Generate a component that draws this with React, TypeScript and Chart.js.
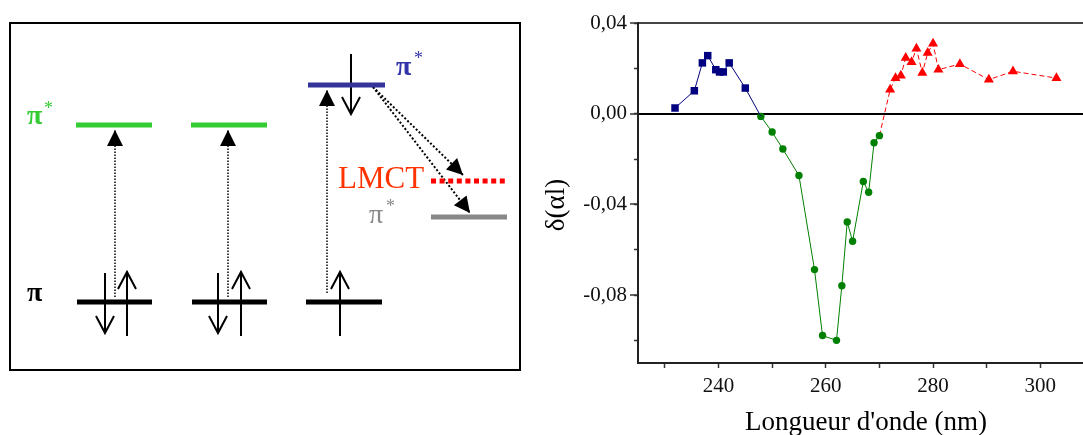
import React, { useEffect, useRef } from "react";
import { Chart, registerables } from "chart.js";

Chart.register(...registerables);

const SERIF = '"Liberation Serif", "Times New Roman", Times, serif';

// ---------------- Spectrum data ----------------
const blueWavelength = [231.9, 235.5, 237.0, 238.0, 239.5, 240.2, 240.9, 242.0, 245.0, 247.9];
const blueDelta = [0.0025, 0.0101, 0.0224, 0.0256, 0.0194, 0.0184, 0.0184, 0.0224, 0.0113, -0.0012];

const greenWavelength = [247.9, 250.0, 252.0, 255.0, 257.9, 259.4, 262.0, 263.0, 264.0, 265.0, 267.0, 268.0, 269.0, 270.0];
const greenDelta = [-0.0012, -0.0081, -0.0156, -0.0273, -0.0688, -0.0979, -0.1, -0.0759, -0.0478, -0.0563, -0.0299, -0.0347, -0.0128, -0.0097];

const redWavelength = [270.0, 272.0, 273.0, 274.0, 274.9, 276.0, 276.9, 278.0, 279.0, 280.0, 281.0, 285.0, 290.4, 294.9, 303.0];
const redDelta = [-0.0097, 0.0106, 0.0157, 0.0168, 0.0246, 0.0228, 0.0287, 0.018, 0.0268, 0.0309, 0.0194, 0.0219, 0.015, 0.0187, 0.0157];

const xLabelledTicks = [240, 260, 280, 300];
const yLabelledTicks = [0.04, 0, -0.04, -0.08];
const xTitle = "Longueur d'onde (nm)";
const yTitle = "δ(αl)";

// ---------------- Energy-level scheme (diagram units) ----------------
const GREEN = "#33cc33";
const BLUE = "#333399";
const GREY = "#888888";
const LMCT_RED = "#ff0000";

const levelNames = ["π* 1", "π* 2", "π* 3", "LMCT", "π* M", "π 1", "π 2", "π 3"];
const levelLeft = [76, 191, 308, 431, 431, 77, 192, 306];
const levelRight = [152, 267, 385, 508, 507, 152, 267, 382];
const levelEnergy = [125, 125, 85, 181, 217, 302, 302, 302];
const levelColor = [GREEN, GREEN, BLUE, LMCT_RED, GREY, "#000000", "#000000", "#000000"];
const levelDotted = [false, false, false, true, false, false, false, false];

// electron spins (vertical solid arrows): x, start, end (head at end)
const spinX = [105, 127, 218, 241, 340, 351];
const spinFrom = [273, 336, 273, 336, 336, 54];
const spinTo = [333, 272, 333, 272, 272, 114];

// excitations / transfers (dotted arrows): start -> tip
const excFromX = [115, 228, 327, 373, 373];
const excFromY = [297, 297, 293, 87, 87];
const excToX = [115, 228, 327, 463, 470];
const excToY = [130, 130, 90, 175, 213];

const schemeLabels = [
  { text: "π", x: 27, y: 124, size: 28, weight: "bold", color: GREEN },
  { text: "*", x: 44, y: 114, size: 18, weight: "normal", color: GREEN },
  { text: "π", x: 396, y: 75, size: 28, weight: "bold", color: "#3333aa" },
  { text: "*", x: 414, y: 64, size: 18, weight: "normal", color: "#3333aa" },
  { text: "π", x: 369, y: 223, size: 28, weight: "normal", color: GREY },
  { text: "*", x: 386, y: 212, size: 18, weight: "normal", color: GREY },
  { text: "π", x: 27, y: 301, size: 28, weight: "bold", color: "#000000" },
  { text: "LMCT", x: 338, y: 188, size: 31, weight: "normal", color: "#ff3300" },
];

const toPoints = (xs: number[], ys: number[]) => xs.map((x, i) => ({ x, y: ys[i] }));

const schemePlugin = {
  id: "scheme",
  beforeDatasetsDraw(chart: any) {
    const { ctx, chartArea } = chart;
    ctx.save();
    ctx.strokeStyle = "#000";
    ctx.lineWidth = 2;
    ctx.strokeRect(chartArea.left, chartArea.top, chartArea.right - chartArea.left, chartArea.bottom - chartArea.top);
    ctx.restore();
  },
  afterDatasetsDraw(chart: any) {
    const { ctx } = chart;
    const xs = chart.scales.x;
    const ys = chart.scales.y;
    chart.data.datasets.forEach((ds: any, i: number) => {
      if (!ds.arrow) return;
      const meta = chart.getDatasetMeta(i);
      const p0 = meta.data[0];
      const p1 = meta.data[1];
      const dx = p1.x - p0.x;
      const dy = p1.y - p0.y;
      const len = Math.hypot(dx, dy);
      const ux = dx / len;
      const uy = dy / len;
      const nx = -uy;
      const ny = ux;
      ctx.save();
      if (ds.arrow === "open") {
        const L = 17;
        const W = 9;
        ctx.strokeStyle = "#000";
        ctx.lineWidth = 2;
        ctx.beginPath();
        ctx.moveTo(p1.x - ux * L + nx * W, p1.y - uy * L + ny * W);
        ctx.lineTo(p1.x, p1.y);
        ctx.lineTo(p1.x - ux * L - nx * W, p1.y - uy * L - ny * W);
        ctx.stroke();
      } else {
        const L = 16;
        const W = 8;
        ctx.fillStyle = "#000";
        ctx.beginPath();
        ctx.moveTo(p1.x, p1.y);
        ctx.lineTo(p1.x - ux * L + nx * W, p1.y - uy * L + ny * W);
        ctx.lineTo(p1.x - ux * L - nx * W, p1.y - uy * L - ny * W);
        ctx.closePath();
        ctx.fill();
      }
      ctx.restore();
    });
    ctx.save();
    ctx.textAlign = "left";
    ctx.textBaseline = "alphabetic";
    schemeLabels.forEach((l) => {
      ctx.font = `${l.weight} ${l.size}px ${SERIF}`;
      ctx.fillStyle = l.color;
      ctx.fillText(l.text, xs.getPixelForValue(l.x), ys.getPixelForValue(l.y));
    });
    ctx.restore();
  },
};

const spectrumTitles = {
  id: "spectrumTitles",
  afterDraw(chart: any) {
    const { ctx, chartArea } = chart;
    ctx.save();
    ctx.fillStyle = "#000";
    ctx.font = `27px ${SERIF}`;
    ctx.textAlign = "center";
    ctx.textBaseline = "alphabetic";
    ctx.fillText(xTitle, (chartArea.left + chartArea.right) / 2, 430);
    ctx.translate(chartArea.left - 74, 205);
    ctx.rotate(-Math.PI / 2);
    ctx.fillText(yTitle, 0, 0);
    ctx.restore();
  },
};

const isLabelled = (list: number[], v: number) => list.some((t) => Math.abs(t - v) < 1e-9);
const fmtY = (v: number) => (Math.abs(v) < 1e-9 ? "0,00" : v.toFixed(2).replace(".", ","));

export default function App() {
  const schemeRef = useRef<HTMLCanvasElement | null>(null);
  const specRef = useRef<HTMLCanvasElement | null>(null);

  useEffect(() => {
    const levelSets = levelNames.map((name, i) => ({
      label: name,
      data: [
        { x: levelLeft[i], y: levelEnergy[i] },
        { x: levelRight[i], y: levelEnergy[i] },
      ],
      showLine: true,
      borderColor: levelColor[i],
      borderWidth: 5,
      borderDash: levelDotted[i] ? [5, 3.6] : [],
      borderCapStyle: "butt",
      pointRadius: 0,
    }));
    const spinSets = spinX.map((x, i) => ({
      label: "spin" + i,
      data: [
        { x, y: spinFrom[i] },
        { x, y: spinTo[i] },
      ],
      showLine: true,
      borderColor: "#000",
      borderWidth: 2,
      pointRadius: 0,
      arrow: "open",
    }));
    const excSets = excFromX.map((x, i) => ({
      label: "exc" + i,
      data: [
        { x, y: excFromY[i] },
        { x: excToX[i], y: excToY[i] },
      ],
      showLine: true,
      borderColor: "#000",
      borderWidth: i >= 3 ? 2 : 1.5,
      borderDash: i >= 3 ? [2, 2] : [1.5, 1.5],
      pointRadius: 0,
      arrow: "filled",
    }));

    const scheme = new Chart(schemeRef.current as HTMLCanvasElement, {
      type: "scatter",
      data: { datasets: [...levelSets, ...spinSets, ...excSets] as any },
      options: {
        responsive: false,
        animation: false,
        events: [],
        layout: { padding: { left: 10, top: 23, right: 20, bottom: 65 }, autoPadding: false },
        plugins: { legend: { display: false }, tooltip: { enabled: false } },
        scales: {
          x: { type: "linear", min: 10, max: 520, display: false },
          y: { type: "linear", min: 23, max: 370, reverse: true, display: false },
        },
      } as any,
      plugins: [schemePlugin],
    });

    const spec = new Chart(specRef.current as HTMLCanvasElement, {
      type: "scatter",
      data: {
        datasets: [
          {
            label: "blue",
            data: toPoints(blueWavelength, blueDelta),
            showLine: true,
            borderColor: "#000080",
            backgroundColor: "#000080",
            borderWidth: 1,
            pointStyle: "rect",
            pointRadius: (c: any) => (c.dataIndex === blueDelta.length - 1 ? 0 : 5.3),
            pointBorderWidth: 0,
          },
          {
            label: "green",
            data: toPoints(greenWavelength, greenDelta),
            showLine: true,
            borderColor: "#008000",
            backgroundColor: "#008000",
            borderWidth: 1,
            pointStyle: "circle",
            pointRadius: 3.7,
            pointBorderWidth: 0,
          },
          {
            label: "red",
            data: toPoints(redWavelength, redDelta),
            showLine: true,
            borderColor: "#ff0000",
            backgroundColor: "#ff0000",
            borderWidth: 1,
            borderDash: [5, 3],
            pointStyle: "triangle",
            pointRadius: (c: any) => (c.dataIndex === 0 ? 0 : 5.8),
            pointBorderWidth: 0,
          },
        ] as any,
      },
      options: {
        responsive: false,
        animation: false,
        events: [],
        layout: { padding: { left: 0, top: 23, right: 5, bottom: 0 }, autoPadding: false },
        plugins: { legend: { display: false }, tooltip: { enabled: false } },
        scales: {
          x: {
            type: "linear",
            position: "bottom",
            min: 225,
            max: 310,
            afterFit: (s: any) => {
              s.height = 72;
            },
            ticks: {
              stepSize: 10,
              includeBounds: false,
              autoSkip: false,
              maxRotation: 0,
              padding: 6,
              color: "#111",
              font: { family: SERIF, size: 21 },
              callback: (v: any) => (isLabelled(xLabelledTicks, Number(v)) ? String(v) : ""),
            },
            grid: { drawOnChartArea: false, drawTicks: true, tickLength: 5, tickWidth: 1.5, tickColor: "#333" },
            border: { display: true, width: 2, color: "#222" },
          },
          xTop: {
            type: "linear",
            position: "top",
            min: 225,
            max: 310,
            afterFit: (s: any) => {
              s.height = 0;
            },
            ticks: { display: false },
            grid: { display: false },
            border: { display: true, width: 2, color: "#444" },
          },
          y: {
            type: "linear",
            position: "left",
            weight: 1,
            min: -0.11,
            max: 0.04,
            afterFit: (s: any) => {
              s.width = 98;
            },
            ticks: {
              stepSize: 0.04,
              includeBounds: false,
              padding: 3,
              color: "#111",
              font: { family: SERIF, size: 21 },
              callback: (v: any) => (isLabelled(yLabelledTicks, Number(v)) ? fmtY(Number(v)) : ""),
            },
            grid: {
              drawOnChartArea: true,
              color: (c: any) => (c.tick && Math.abs(c.tick.value) < 1e-9 ? "#000" : "rgba(0,0,0,0)"),
              lineWidth: (c: any) => (c.tick && Math.abs(c.tick.value) < 1e-9 ? 2 : 0),
              drawTicks: true,
              tickLength: 8,
              tickWidth: 1.5,
              tickColor: "#333",
            },
            border: { display: true, width: 2, color: "#222" },
          },
          yMinor: {
            type: "linear",
            position: "left",
            weight: 0,
            min: -0.11,
            max: 0.04,
            afterFit: (s: any) => {
              s.width = 0;
            },
            ticks: { stepSize: 0.02, includeBounds: false, display: false },
            grid: { drawOnChartArea: false, drawTicks: true, tickLength: 4, tickWidth: 1.5, tickColor: "#333" },
            border: { display: false },
          },
        },
      } as any,
      plugins: [spectrumTitles],
    });

    return () => {
      scheme.destroy();
      spec.destroy();
    };
  }, []);

  return (
    <div
      style={{
        position: "absolute",
        left: 0,
        top: 0,
        width: 1083,
        height: 435,
        overflow: "hidden",
        background: "#ffffff",
      }}
    >
      <canvas
        ref={schemeRef}
        width={540}
        height={435}
        style={{ position: "absolute", left: 0, top: 0, width: 540, height: 435 }}
      />
      <canvas
        ref={specRef}
        width={560}
        height={435}
        style={{ position: "absolute", left: 540, top: 0, width: 560, height: 435 }}
      />
    </div>
  );
}
